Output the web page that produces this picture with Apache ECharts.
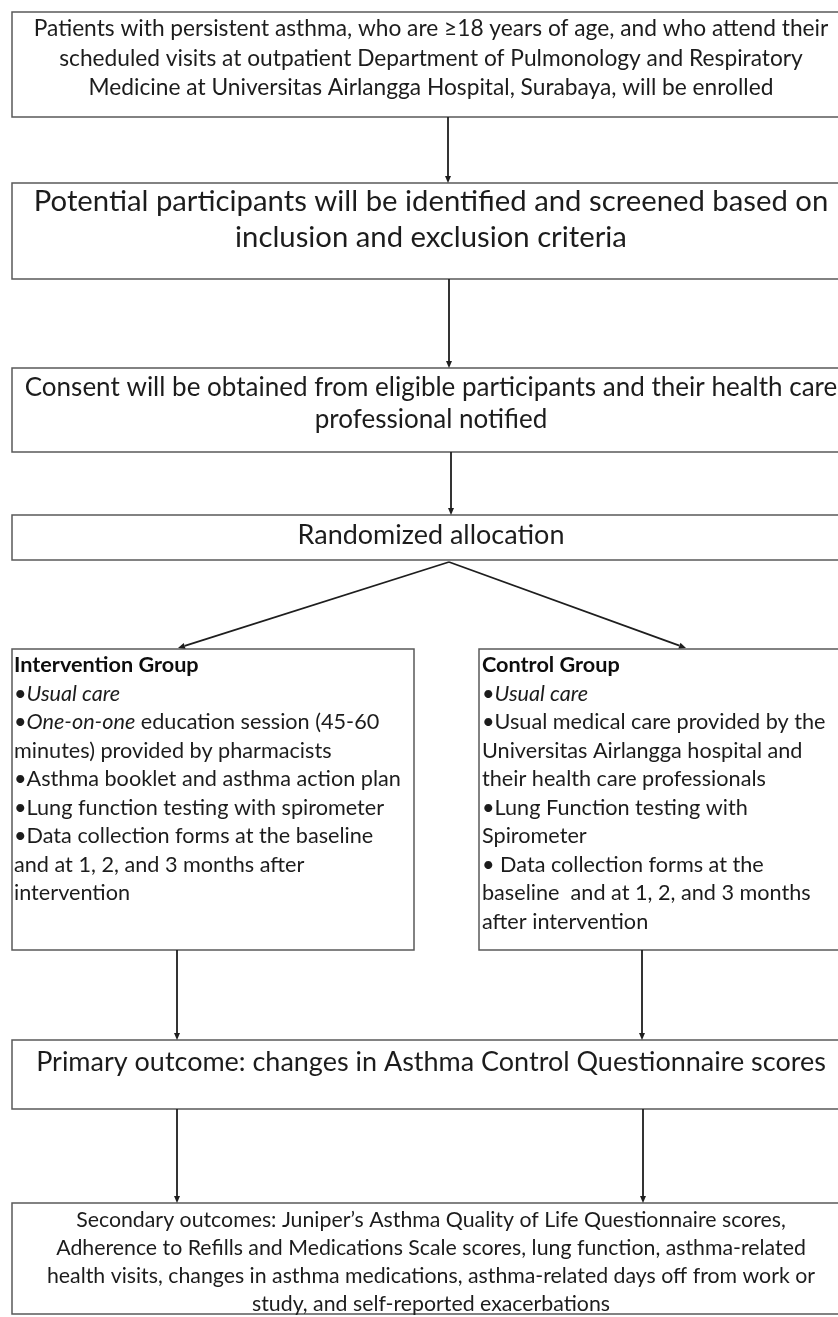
<!DOCTYPE html>
<html>
<head>
<meta charset="utf-8">
<script src="https://cdn.jsdelivr.net/npm/echarts@6/dist/echarts.min.js"></script>
<style>
  html, body { margin: 0; padding: 0; background: #fff; }
  #flow { width: 838px; height: 1317px; }
</style>
</head>
<body>
<div id="flow"></div>
<script>
// box texts, top to bottom
var enrolLines = [
  'Patients with persistent asthma, who are \u226518 years of age, and who attend their',
  'scheduled visits at outpatient Department of Pulmonology and Respiratory',
  'Medicine at Universitas Airlangga Hospital, Surabaya, will be enrolled'
];
var screenLines = [
  'Potential participants will be identified and screened based on',
  'inclusion and exclusion criteria'
];
var consentLines = [
  'Consent will be obtained from eligible participants and their health care',
  'professional notified'
];
var allocLines = ['Randomized allocation'];
var interventionLines = [
  '{b|Intervention Group}',
  '\u2022{i|Usual care}',
  '\u2022{i|One-on-one} education session (45-60',
  'minutes) provided by pharmacists',
  '\u2022Asthma booklet and asthma action plan',
  '\u2022Lung function testing with spirometer',
  '\u2022Data collection forms at the baseline',
  'and at 1, 2, and 3 months after',
  'intervention'
];
var controlLines = [
  '{b|Control Group}',
  '\u2022{i|Usual care}',
  '\u2022Usual medical care provided by the',
  'Universitas Airlangga hospital and',
  'their health care professionals',
  '\u2022Lung Function testing with',
  'Spirometer',
  '\u2022 Data collection forms at the',
  'baseline  and at 1, 2, and 3 months',
  'after intervention'
];
var primaryLines = ['Primary outcome: changes in Asthma Control Questionnaire scores'];
var secondaryLines = [
  'Secondary outcomes: Juniper\u2019s Asthma Quality of Life Questionnaire scores,',
  'Adherence to Refills and Medications Scale scores, lung function, asthma-related',
  'health visits, changes in asthma medications, asthma-related days off from work or',
  'study, and self-reported exacerbations'
];

var FONT = 'Lato, "Open Sans", sans-serif';
var TEXT = '#1c1c1c';
var ctx = document.createElement('canvas').getContext('2d');
// pick a font size so a reference line spans the width seen in the original
function fit(str, width) {
  ctx.font = '100px ' + FONT;
  return 100 * width / ctx.measureText(str).width;
}

var groupSize = fit(interventionLines[4], 387);

// layout in pixel space: box corners, text top, line height, font size
var nodes = [
  { lines: enrolLines, box: [12, 12, 850, 117], align: 'center', top: 14, lh: 29.5, size: fit(enrolLines[0], 795) },
  { lines: screenLines, box: [12, 183, 850, 279], align: 'center', top: 184, lh: 36, size: fit(screenLines[0], 795) },
  { lines: consentLines, box: [12, 368, 850, 452], align: 'center', top: 372, lh: 32, size: fit(consentLines[0], 813) },
  { lines: allocLines, box: [12, 515, 850, 560], align: 'center', top: 520, lh: 30, size: fit(allocLines[0], 267) },
  { lines: interventionLines, box: [12, 649, 414, 950], align: 'left', tx: 14, top: 651, lh: 28.5, size: groupSize },
  { lines: controlLines, box: [479, 649, 850, 950], align: 'left', tx: 482, top: 651, lh: 28.5, size: groupSize },
  { lines: primaryLines, box: [12, 1040, 850, 1109], align: 'center', top: 1047, lh: 30, size: fit(primaryLines[0], 790) },
  { lines: secondaryLines, box: [12, 1203, 850, 1314], align: 'center', top: 1206, lh: 28, size: fit(secondaryLines[0], 710) }
];

var arrows = [
  [448, 117, 448, 183],
  [449, 279, 449, 368],
  [451, 452, 451, 515],
  [449, 562, 178, 648],
  [449, 562, 686, 648],
  [177, 950, 177, 1040],
  [642, 950, 642, 1040],
  [177, 1109, 177, 1203],
  [643, 1109, 643, 1203]
];

var chart = echarts.init(document.getElementById('flow'));

function renderBox(params, api) {
  var n = nodes[params.dataIndex];
  var p0 = api.coord([n.box[0], n.box[1]]);
  var p1 = api.coord([n.box[2], n.box[3]]);
  var tx = n.align === 'center' ? api.coord([431, 0])[0] : api.coord([n.tx, 0])[0];
  var ty = api.coord([0, n.top])[1];
  return {
    type: 'group',
    children: [
      {
        type: 'rect',
        shape: { x: p0[0], y: p0[1], width: p1[0] - p0[0], height: p1[1] - p0[1] },
        style: { fill: '#fff', stroke: '#5a5a5a', lineWidth: 1.5 }
      },
      {
        type: 'text',
        x: tx,
        y: ty,
        style: {
          text: n.lines.join('\n'),
          fontFamily: FONT,
          fontSize: n.size,
          lineHeight: n.lh,
          fill: TEXT,
          align: n.align,
          verticalAlign: 'top',
          rich: {
            b: { fontFamily: FONT, fontSize: n.size, lineHeight: n.lh, fontWeight: 'bold', fill: '#0d0d0d' },
            i: { fontFamily: FONT, fontSize: n.size, lineHeight: n.lh, fontStyle: 'italic', fill: TEXT }
          }
        }
      }
    ]
  };
}

function renderArrow(params, api) {
  var a = api.coord([api.value(0), api.value(1)]);
  var b = api.coord([api.value(2), api.value(3)]);
  var dx = b[0] - a[0], dy = b[1] - a[1];
  var len = Math.sqrt(dx * dx + dy * dy);
  var ux = dx / len, uy = dy / len;
  var headLen = 7, headW = 3;
  var base = [b[0] - ux * headLen, b[1] - uy * headLen];
  return {
    type: 'group',
    children: [
      {
        type: 'line',
        shape: { x1: a[0], y1: a[1], x2: base[0], y2: base[1] },
        style: { stroke: '#1e1e1e', lineWidth: 1.8 }
      },
      {
        type: 'polygon',
        shape: {
          points: [
            [b[0], b[1]],
            [base[0] - uy * headW, base[1] + ux * headW],
            [base[0] + uy * headW, base[1] - ux * headW]
          ]
        },
        style: { fill: '#1e1e1e' }
      }
    ]
  };
}

var option = {
  backgroundColor: '#fff',
  animation: false,
  grid: { left: 0, right: 0, top: 0, bottom: 0 },
  xAxis: { type: 'value', min: 0, max: 838, show: false },
  yAxis: { type: 'value', min: 0, max: 1317, inverse: true, show: false },
  series: [
    {
      type: 'custom',
      renderItem: renderBox,
      data: nodes.map(function (n, i) { return [i]; }),
      silent: true
    },
    {
      type: 'custom',
      renderItem: renderArrow,
      data: arrows,
      silent: true
    }
  ]
};
chart.setOption(option);
</script>
</body>
</html>
